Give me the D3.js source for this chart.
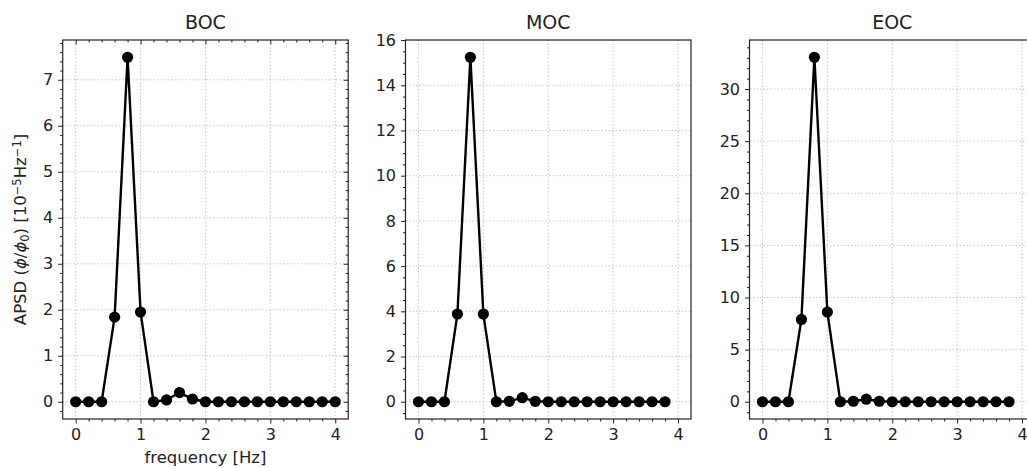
<!DOCTYPE html>
<html>
<head>
<meta charset="utf-8">
<script src="https://cdn.jsdelivr.net/npm/d3@7"></script>
<style>
  body { margin: 0; background: #fff; }
  svg { display: block; font-family: "DejaVu Sans", sans-serif; }
</style>
</head>
<body>
<svg id="chart" width="1027" height="468"></svg>
<script>
// ---- data ----
const titles = ["BOC", "MOC", "EOC"];
const freqBOC = [0, 0.2, 0.4, 0.6, 0.8, 1.0, 1.2, 1.4, 1.6, 1.8, 2.0, 2.2, 2.4, 2.6, 2.8, 3.0, 3.2, 3.4, 3.6, 3.8, 4.0];
const freqMOC = [0, 0.2, 0.4, 0.6, 0.8, 1.0, 1.2, 1.4, 1.6, 1.8, 2.0, 2.2, 2.4, 2.6, 2.8, 3.0, 3.2, 3.4, 3.6, 3.8];
const freqEOC = [0, 0.2, 0.4, 0.6, 0.8, 1.0, 1.2, 1.4, 1.6, 1.8, 2.0, 2.2, 2.4, 2.6, 2.8, 3.0, 3.2, 3.4, 3.6, 3.8];
const apsdBOC = [0, 0, 0, 1.84, 7.49, 1.95, 0, 0.04, 0.2, 0.06, 0, 0, 0, 0, 0, 0, 0, 0, 0, 0, 0];
const apsdMOC = [0, 0, 0, 3.88, 15.24, 3.88, 0, 0.02, 0.18, 0.02, 0, 0, 0, 0, 0, 0, 0, 0, 0, 0];
const apsdEOC = [0, 0, 0, 7.9, 33.05, 8.6, 0, 0.05, 0.25, 0.05, 0, 0, 0, 0, 0, 0, 0, 0, 0, 0];
const xTicks = [0, 1, 2, 3, 4];
const xMinorStep = 0.2;
const yTicksBOC = [0, 1, 2, 3, 4, 5, 6, 7];
const yTicksMOC = [0, 2, 4, 6, 8, 10, 12, 14, 16];
const yTicksEOC = [0, 5, 10, 15, 20, 25, 30];
const yMinorSteps = [0.2, 0.5, 1];

const panels = [
  { title: titles[0], f: freqBOC, v: apsdBOC, yt: yTicksBOC, ym: yMinorSteps[0], mirror: true },
  { title: titles[1], f: freqMOC, v: apsdMOC, yt: yTicksMOC, ym: yMinorSteps[1], mirror: false },
  { title: titles[2], f: freqEOC, v: apsdEOC, yt: yTicksEOC, ym: yMinorSteps[2], mirror: false }
];

// ---- layout ----
const svg = d3.select("#chart");
const topY = 40, bottomY = 419;
const lefts = [62.7, 405.5, 749.5];
const pw = 285.5;
const ink = "#222";

// shared x domain with 5% margins
const fx = d3.extent(freqBOC);
const fxPad = (fx[1] - fx[0]) * 0.05;
const xDomain = [fx[0] - fxPad, fx[1] + fxPad];

function stepRange(a, b, s) {
  const out = [];
  const n = Math.round((b - a) / s);
  for (let i = 0; i <= n; i++) out.push(+(a + i * s).toFixed(6));
  return out;
}

panels.forEach((p, i) => {
  const L = lefts[i];
  const x = d3.scaleLinear().domain(xDomain).range([L, L + pw]);
  const ext = d3.extent(p.v);
  const pad = (ext[1] - ext[0]) * 0.05;
  const y = d3.scaleLinear().domain([ext[0] - pad, ext[1] + pad]).range([bottomY, topY]);

  const g = svg.append("g");
  const clip = "clip" + i;
  svg.append("clipPath").attr("id", clip).append("rect")
    .attr("x", L).attr("y", topY).attr("width", pw).attr("height", bottomY - topY);

  const xMinor = stepRange(-0.2, 4.2, xMinorStep).filter(t => t > xDomain[0] && t < xDomain[1] && !xTicks.some(m => Math.abs(m - t) < 1e-6));
  const yd = y.domain();
  const yMinor = stepRange(Math.ceil(yd[0] / p.ym) * p.ym, Math.floor(yd[1] / p.ym) * p.ym, p.ym)
    .filter(t => !p.yt.some(m => Math.abs(m - t) < 1e-6));

  // grid
  const grid = g.append("g").attr("clip-path", `url(#${clip})`);
  grid.selectAll(".gx").data(xTicks).join("line")
    .attr("x1", d => x(d)).attr("x2", d => x(d)).attr("y1", topY).attr("y2", bottomY)
    .attr("stroke", "#c8c8c8").attr("stroke-width", 1).attr("stroke-dasharray", "1.5,2");
  grid.selectAll(".gy").data(p.yt).join("line")
    .attr("y1", d => y(d)).attr("y2", d => y(d)).attr("x1", L).attr("x2", L + pw)
    .attr("stroke", "#c8c8c8").attr("stroke-width", 1).attr("stroke-dasharray", "1.5,2");

  // data line + markers
  const pts = p.f.map((f, k) => [f, p.v[k]]);
  const plot = g.append("g").attr("clip-path", `url(#${clip})`);
  plot.append("path").datum(pts)
    .attr("d", d3.line().x(d => x(d[0])).y(d => y(d[1])))
    .attr("fill", "none").attr("stroke", "#000").attr("stroke-width", 2.4);
  plot.selectAll("circle").data(pts).join("circle")
    .attr("cx", d => x(d[0])).attr("cy", d => y(d[1])).attr("r", 5.6).attr("fill", "#000");

  // axes
  const styleAxis = sel => {
    sel.select(".domain").remove();
    sel.selectAll(".tick line").attr("stroke", ink).attr("stroke-width", 1);
    sel.selectAll(".tick text").attr("fill", ink).style("font-size", "16px").style("font-family", "DejaVu Sans");
  };
  const bx = g.append("g").attr("transform", `translate(0,${bottomY})`)
    .call(d3.axisBottom(x).tickValues(xTicks).tickSize(4.5).tickPadding(5).tickFormat(d3.format("d")));
  styleAxis(bx);
  const bxm = g.append("g").attr("transform", `translate(0,${bottomY})`)
    .call(d3.axisBottom(x).tickValues(xMinor).tickSize(2.5).tickFormat(""));
  styleAxis(bxm);
  const ly = g.append("g").attr("transform", `translate(${L},0)`)
    .call(d3.axisLeft(y).tickValues(p.yt).tickSize(4.5).tickPadding(5).tickFormat(d3.format("d")));
  styleAxis(ly);
  const lym = g.append("g").attr("transform", `translate(${L},0)`)
    .call(d3.axisLeft(y).tickValues(yMinor).tickSize(2.5).tickFormat(""));
  styleAxis(lym);

  if (p.mirror) {
    const tx = g.append("g").attr("transform", `translate(0,${topY})`)
      .call(d3.axisBottom(x).tickValues(xTicks).tickSize(4.5).tickFormat(""));
    styleAxis(tx);
    const txm = g.append("g").attr("transform", `translate(0,${topY})`)
      .call(d3.axisBottom(x).tickValues(xMinor).tickSize(2.5).tickFormat(""));
    styleAxis(txm);
    const ry = g.append("g").attr("transform", `translate(${L + pw},0)`)
      .call(d3.axisLeft(y).tickValues(p.yt).tickSize(4.5).tickFormat(""));
    styleAxis(ry);
    const rym = g.append("g").attr("transform", `translate(${L + pw},0)`)
      .call(d3.axisLeft(y).tickValues(yMinor).tickSize(2.5).tickFormat(""));
    styleAxis(rym);
  }

  // frame
  g.append("rect").attr("x", L).attr("y", topY).attr("width", pw).attr("height", bottomY - topY)
    .attr("fill", "none").attr("stroke", ink).attr("stroke-width", 1.2);

  // title
  g.append("text").attr("x", L + pw / 2).attr("y", 29).attr("text-anchor", "middle")
    .attr("fill", ink).style("font-size", "19px").text(p.title);
});

// axis labels
svg.append("text").attr("x", lefts[0] + pw / 2).attr("y", 463).attr("text-anchor", "middle")
  .attr("fill", ink).style("font-size", "16.5px").text("frequency [Hz]");

const yl = svg.append("text").attr("transform", `translate(26,${(topY + bottomY) / 2}) rotate(-90)`)
  .attr("text-anchor", "middle").attr("fill", ink).style("font-size", "16.5px");
yl.append("tspan").text("APSD (");
yl.append("tspan").style("font-style", "italic").text("ϕ");
yl.append("tspan").text("/");
yl.append("tspan").style("font-style", "italic").text("ϕ");
yl.append("tspan").attr("baseline-shift", "-25%").style("font-size", "11.5px").text("0");
yl.append("tspan").text(") [10");
yl.append("tspan").attr("baseline-shift", "45%").style("font-size", "11.5px").text("−5");
yl.append("tspan").text("Hz");
yl.append("tspan").attr("baseline-shift", "45%").style("font-size", "11.5px").text("−1");
yl.append("tspan").text("]");
</script>
</body>
</html>
